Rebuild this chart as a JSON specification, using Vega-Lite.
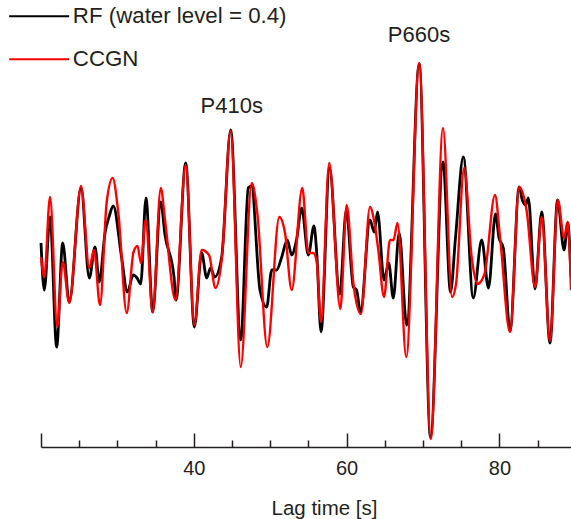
{
  "$schema": "https://vega.github.io/schema/vega-lite/v6.json",
  "width": 530,
  "height": 447,
  "autosize": {"type": "none"},
  "padding": {"left": 41, "top": 0, "right": 0, "bottom": 72},
  "config": {
    "view": {"stroke": null},
    "font": "Liberation Sans",
    "axis": {
      "domainColor": "#231f20", "domainWidth": 1.5,
      "tickColor": "#231f20", "tickWidth": 1.5,
      "labelFont": "Liberation Sans", "labelFontSize": 20, "labelColor": "#231f20",
      "titleFont": "Liberation Sans", "titleFontSize": 20.5, "titleFontWeight": "normal", "titleColor": "#231f20",
      "grid": false
    },
    "legend": {
      "labelFont": "Liberation Sans", "labelFontSize": 22.3, "labelColor": "#231f20", "labelLimit": 400
    }
  },
  "datasets": {
    "waves": [
      {"s": "RF (water level = 0.4)", "t": 20.00, "a": 0.07},
      {"s": "RF (water level = 0.4)", "t": 20.43, "a": -0.40},
      {"s": "RF (water level = 0.4)", "t": 21.18, "a": 0.33},
      {"s": "RF (water level = 0.4)", "t": 22.05, "a": -0.97},
      {"s": "RF (water level = 0.4)", "t": 22.84, "a": 0.07},
      {"s": "RF (water level = 0.4)", "t": 23.70, "a": -0.52},
      {"s": "RF (water level = 0.4)", "t": 25.24, "a": 0.62},
      {"s": "RF (water level = 0.4)", "t": 26.32, "a": -0.28},
      {"s": "RF (water level = 0.4)", "t": 27.07, "a": 0.03},
      {"s": "RF (water level = 0.4)", "t": 27.63, "a": -0.32},
      {"s": "RF (water level = 0.4)", "t": 28.38, "a": 0.17},
      {"s": "RF (water level = 0.4)", "t": 28.94, "a": 0.34},
      {"s": "RF (water level = 0.4)", "t": 29.46, "a": 0.44},
      {"s": "RF (water level = 0.4)", "t": 30.56, "a": -0.08},
      {"s": "RF (water level = 0.4)", "t": 31.30, "a": -0.42},
      {"s": "RF (water level = 0.4)", "t": 32.08, "a": -0.25},
      {"s": "RF (water level = 0.4)", "t": 32.57, "a": -0.28},
      {"s": "RF (water level = 0.4)", "t": 33.05, "a": -0.34},
      {"s": "RF (water level = 0.4)", "t": 33.74, "a": 0.52},
      {"s": "RF (water level = 0.4)", "t": 34.62, "a": -0.62},
      {"s": "RF (water level = 0.4)", "t": 35.67, "a": 0.48},
      {"s": "RF (water level = 0.4)", "t": 36.23, "a": 0.15},
      {"s": "RF (water level = 0.4)", "t": 37.41, "a": -0.27},
      {"s": "RF (water level = 0.4)", "t": 37.67, "a": -0.50},
      {"s": "RF (water level = 0.4)", "t": 38.94, "a": 0.87},
      {"s": "RF (water level = 0.4)", "t": 40.07, "a": -0.77},
      {"s": "RF (water level = 0.4)", "t": 41.03, "a": -0.03},
      {"s": "RF (water level = 0.4)", "t": 41.69, "a": -0.28},
      {"s": "RF (water level = 0.4)", "t": 42.19, "a": -0.18},
      {"s": "RF (water level = 0.4)", "t": 42.74, "a": -0.27},
      {"s": "RF (water level = 0.4)", "t": 43.65, "a": -0.07},
      {"s": "RF (water level = 0.4)", "t": 44.83, "a": 1.20},
      {"s": "RF (water level = 0.4)", "t": 46.14, "a": -0.90},
      {"s": "RF (water level = 0.4)", "t": 47.13, "a": 0.62},
      {"s": "RF (water level = 0.4)", "t": 47.55, "a": 0.64},
      {"s": "RF (water level = 0.4)", "t": 48.66, "a": -0.40},
      {"s": "RF (water level = 0.4)", "t": 49.54, "a": -0.57},
      {"s": "RF (water level = 0.4)", "t": 50.20, "a": -0.20},
      {"s": "RF (water level = 0.4)", "t": 50.85, "a": -0.20},
      {"s": "RF (water level = 0.4)", "t": 51.51, "a": -0.07},
      {"s": "RF (water level = 0.4)", "t": 52.24, "a": 0.10},
      {"s": "RF (water level = 0.4)", "t": 52.81, "a": -0.05},
      {"s": "RF (water level = 0.4)", "t": 53.44, "a": 0.10},
      {"s": "RF (water level = 0.4)", "t": 54.12, "a": 0.42},
      {"s": "RF (water level = 0.4)", "t": 54.99, "a": -0.05},
      {"s": "RF (water level = 0.4)", "t": 55.73, "a": 0.24},
      {"s": "RF (water level = 0.4)", "t": 56.09, "a": -0.03},
      {"s": "RF (water level = 0.4)", "t": 56.65, "a": -0.82},
      {"s": "RF (water level = 0.4)", "t": 57.76, "a": 0.82},
      {"s": "RF (water level = 0.4)", "t": 59.10, "a": -0.44},
      {"s": "RF (water level = 0.4)", "t": 59.96, "a": 0.40},
      {"s": "RF (water level = 0.4)", "t": 60.88, "a": -0.37},
      {"s": "RF (water level = 0.4)", "t": 61.30, "a": -0.40},
      {"s": "RF (water level = 0.4)", "t": 61.82, "a": -0.62},
      {"s": "RF (water level = 0.4)", "t": 63.06, "a": 0.30},
      {"s": "RF (water level = 0.4)", "t": 63.61, "a": 0.18},
      {"s": "RF (water level = 0.4)", "t": 64.05, "a": 0.38},
      {"s": "RF (water level = 0.4)", "t": 64.90, "a": -0.30},
      {"s": "RF (water level = 0.4)", "t": 65.51, "a": -0.13},
      {"s": "RF (water level = 0.4)", "t": 66.11, "a": -0.48},
      {"s": "RF (water level = 0.4)", "t": 66.88, "a": 0.17},
      {"s": "RF (water level = 0.4)", "t": 67.87, "a": -0.75},
      {"s": "RF (water level = 0.4)", "t": 69.50, "a": 1.86},
      {"s": "RF (water level = 0.4)", "t": 70.98, "a": -1.87},
      {"s": "RF (water level = 0.4)", "t": 72.62, "a": 0.88},
      {"s": "RF (water level = 0.4)", "t": 73.60, "a": -0.42},
      {"s": "RF (water level = 0.4)", "t": 74.25, "a": 0.12},
      {"s": "RF (water level = 0.4)", "t": 75.28, "a": 0.93},
      {"s": "RF (water level = 0.4)", "t": 76.58, "a": -0.48},
      {"s": "RF (water level = 0.4)", "t": 77.68, "a": 0.10},
      {"s": "RF (water level = 0.4)", "t": 78.57, "a": -0.38},
      {"s": "RF (water level = 0.4)", "t": 79.49, "a": 0.36},
      {"s": "RF (water level = 0.4)", "t": 79.95, "a": 0.12},
      {"s": "RF (water level = 0.4)", "t": 80.51, "a": 0.02},
      {"s": "RF (water level = 0.4)", "t": 81.39, "a": -0.81},
      {"s": "RF (water level = 0.4)", "t": 82.59, "a": 0.63},
      {"s": "RF (water level = 0.4)", "t": 83.00, "a": 0.50},
      {"s": "RF (water level = 0.4)", "t": 83.44, "a": 0.45},
      {"s": "RF (water level = 0.4)", "t": 83.78, "a": 0.52},
      {"s": "RF (water level = 0.4)", "t": 84.66, "a": -0.39},
      {"s": "RF (water level = 0.4)", "t": 85.54, "a": 0.38},
      {"s": "RF (water level = 0.4)", "t": 86.62, "a": -0.93},
      {"s": "RF (water level = 0.4)", "t": 87.61, "a": 0.50},
      {"s": "RF (water level = 0.4)", "t": 88.46, "a": 0.00},
      {"s": "RF (water level = 0.4)", "t": 88.94, "a": 0.27},
      {"s": "RF (water level = 0.4)", "t": 89.37, "a": -0.27},
      {"s": "CCGN", "t": 20.00, "a": -0.07},
      {"s": "CCGN", "t": 20.43, "a": -0.27},
      {"s": "CCGN", "t": 21.18, "a": 0.53},
      {"s": "CCGN", "t": 22.13, "a": -0.77},
      {"s": "CCGN", "t": 22.84, "a": -0.12},
      {"s": "CCGN", "t": 23.70, "a": -0.53},
      {"s": "CCGN", "t": 25.24, "a": 0.64},
      {"s": "CCGN", "t": 26.32, "a": -0.18},
      {"s": "CCGN", "t": 26.94, "a": 0.00},
      {"s": "CCGN", "t": 27.72, "a": -0.55},
      {"s": "CCGN", "t": 28.60, "a": 0.48},
      {"s": "CCGN", "t": 29.38, "a": 0.72},
      {"s": "CCGN", "t": 30.12, "a": 0.37},
      {"s": "CCGN", "t": 31.22, "a": -0.63},
      {"s": "CCGN", "t": 32.11, "a": -0.02},
      {"s": "CCGN", "t": 32.63, "a": 0.04},
      {"s": "CCGN", "t": 33.09, "a": -0.13},
      {"s": "CCGN", "t": 33.70, "a": 0.30},
      {"s": "CCGN", "t": 34.62, "a": -0.62},
      {"s": "CCGN", "t": 35.68, "a": 0.62},
      {"s": "CCGN", "t": 36.23, "a": 0.30},
      {"s": "CCGN", "t": 37.60, "a": -0.50},
      {"s": "CCGN", "t": 38.94, "a": 0.85},
      {"s": "CCGN", "t": 40.07, "a": -0.75},
      {"s": "CCGN", "t": 41.03, "a": 0.00},
      {"s": "CCGN", "t": 41.99, "a": -0.05},
      {"s": "CCGN", "t": 42.84, "a": -0.38},
      {"s": "CCGN", "t": 43.65, "a": -0.10},
      {"s": "CCGN", "t": 44.83, "a": 1.19},
      {"s": "CCGN", "t": 46.14, "a": -1.17},
      {"s": "CCGN", "t": 47.58, "a": 0.67},
      {"s": "CCGN", "t": 48.31, "a": 0.37},
      {"s": "CCGN", "t": 49.62, "a": -0.97},
      {"s": "CCGN", "t": 51.19, "a": 0.33},
      {"s": "CCGN", "t": 51.94, "a": 0.17},
      {"s": "CCGN", "t": 52.81, "a": -0.40},
      {"s": "CCGN", "t": 54.20, "a": 0.62},
      {"s": "CCGN", "t": 54.99, "a": -0.03},
      {"s": "CCGN", "t": 55.64, "a": -0.03},
      {"s": "CCGN", "t": 56.09, "a": -0.12},
      {"s": "CCGN", "t": 56.65, "a": -0.72},
      {"s": "CCGN", "t": 57.72, "a": 0.87},
      {"s": "CCGN", "t": 59.18, "a": -0.59},
      {"s": "CCGN", "t": 60.01, "a": 0.45},
      {"s": "CCGN", "t": 60.88, "a": -0.33},
      {"s": "CCGN", "t": 61.88, "a": -0.64},
      {"s": "CCGN", "t": 63.06, "a": 0.43},
      {"s": "CCGN", "t": 63.65, "a": 0.27},
      {"s": "CCGN", "t": 64.15, "a": 0.00},
      {"s": "CCGN", "t": 64.90, "a": -0.47},
      {"s": "CCGN", "t": 65.68, "a": 0.10},
      {"s": "CCGN", "t": 66.14, "a": 0.10},
      {"s": "CCGN", "t": 66.66, "a": 0.27},
      {"s": "CCGN", "t": 67.81, "a": -1.07},
      {"s": "CCGN", "t": 69.50, "a": 1.87},
      {"s": "CCGN", "t": 71.02, "a": -1.89},
      {"s": "CCGN", "t": 72.62, "a": 1.22},
      {"s": "CCGN", "t": 73.80, "a": -0.47},
      {"s": "CCGN", "t": 74.32, "a": -0.34},
      {"s": "CCGN", "t": 75.39, "a": 0.82},
      {"s": "CCGN", "t": 76.37, "a": -0.07},
      {"s": "CCGN", "t": 77.13, "a": -0.34},
      {"s": "CCGN", "t": 78.05, "a": -0.24},
      {"s": "CCGN", "t": 79.42, "a": 0.55},
      {"s": "CCGN", "t": 80.08, "a": 0.13},
      {"s": "CCGN", "t": 81.39, "a": -0.82},
      {"s": "CCGN", "t": 82.59, "a": 0.63},
      {"s": "CCGN", "t": 83.57, "a": 0.39},
      {"s": "CCGN", "t": 84.66, "a": -0.37},
      {"s": "CCGN", "t": 85.54, "a": 0.33},
      {"s": "CCGN", "t": 86.62, "a": -0.91},
      {"s": "CCGN", "t": 87.64, "a": 0.50},
      {"s": "CCGN", "t": 88.46, "a": 0.12},
      {"s": "CCGN", "t": 88.94, "a": 0.28},
      {"s": "CCGN", "t": 89.37, "a": -0.40}
    ],
    "notes": [
      {"label": "P410s", "t": 44.96, "a": 1.37},
      {"label": "P660s", "t": 69.48, "a": 2.083}
    ]
  },
  "layer": [
    {
      "data": {"name": "waves"},
      "transform": [{"filter": "datum.s !== 'CCGN'"}],
      "mark": {"type": "line", "interpolate": "monotone", "strokeWidth": 2.8},
      "encoding": {
        "x": {
          "field": "t", "type": "quantitative",
          "scale": {"domain": [20, 89.37], "nice": false, "zero": false},
          "axis": {
            "title": "Lag time [s]",
            "values": [20, 25, 30, 35, 40, 45, 50, 55, 60, 65, 70, 75, 80, 85],
            "labelExpr": "datum.value % 20 === 0 && datum.value > 20 ? datum.label : ''",
            "tickSize": {"condition": {"test": "datum.value % 20 === 0", "value": -14}, "value": -7},
            "labelPadding": 25,
            "titlePadding": 20,
            "titleX": 283,
            "titleAlign": "center",
            "labelFlush": false
          }
        },
        "y": {
          "field": "a", "type": "quantitative",
          "scale": {"domain": [-1.97, 2.5], "nice": false, "zero": false},
          "axis": null
        },
        "color": {
          "field": "s", "type": "nominal",
          "scale": {"domain": ["RF (water level = 0.4)", "CCGN"], "range": ["#000000", "#ff0000"]},
          "legend": {
            "title": null,
            "orient": "none",
            "legendX": -13,
            "legendY": 5,
            "symbolType": "M-3,0L3,0",
            "symbolSize": 400,
            "symbolStrokeWidth": 2,
            "labelOffset": 22.5,
            "rowPadding": 20
          }
        }
      }
    },
    {
      "data": {"name": "waves"},
      "transform": [{"filter": "datum.s === 'CCGN'"}],
      "mark": {"type": "line", "interpolate": "monotone", "strokeWidth": 2.4},
      "encoding": {
        "x": {"field": "t", "type": "quantitative"},
        "y": {"field": "a", "type": "quantitative"},
        "color": {"field": "s", "type": "nominal"}
      }
    },
    {
      "data": {"name": "notes"},
      "mark": {"type": "text", "fontSize": 22, "font": "Liberation Sans", "color": "#231f20", "align": "center", "baseline": "alphabetic"},
      "encoding": {
        "x": {"field": "t", "type": "quantitative"},
        "y": {"field": "a", "type": "quantitative"},
        "text": {"field": "label"}
      }
    }
  ]
}
